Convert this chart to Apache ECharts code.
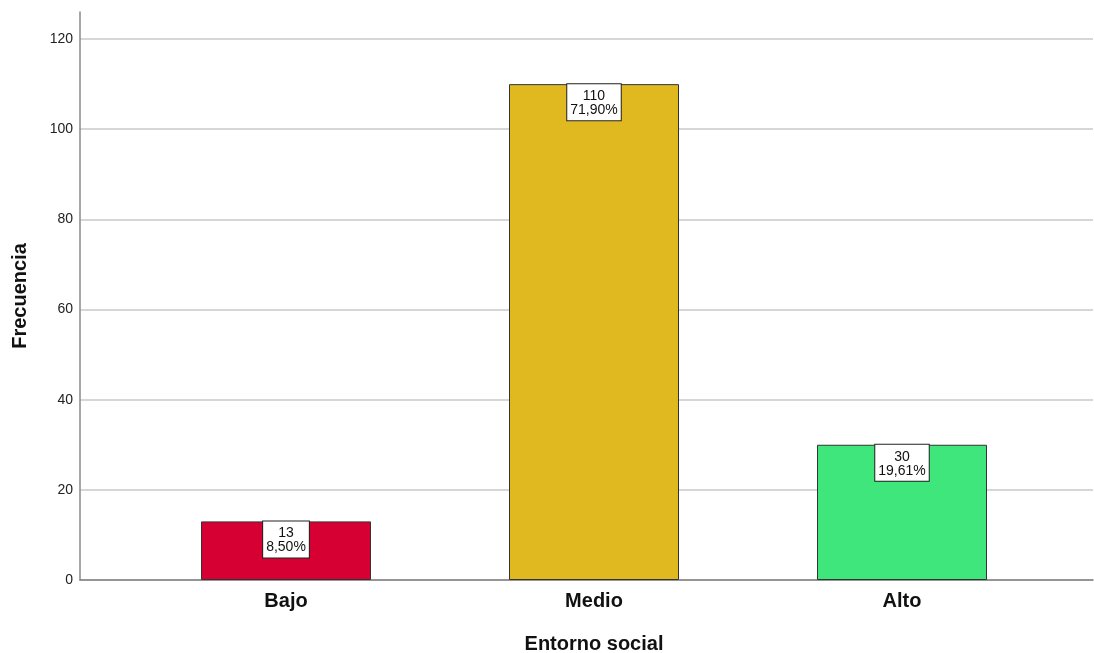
<!DOCTYPE html>
<html>
<head>
<meta charset="utf-8">
<script src="https://cdn.jsdelivr.net/npm/echarts@6/dist/echarts.min.js"></script>
<style>
  html, body { margin: 0; padding: 0; background: #fff; }
  #chart { width: 1094px; height: 653px; }
</style>
</head>
<body>
<div id="chart"></div>
<script>
// Frequency of each social-environment level
const categories = ['Bajo', 'Medio', 'Alto'];
const counts = [13, 110, 30];
const percents = [8.50, 71.90, 19.61];
const barColors = ['#d70032', '#e0b820', '#3fe67c'];

const yMax = 126;
const yStep = 20;

const fontFamily = '"Liberation Sans", Arial, sans-serif';

const chart = echarts.init(document.getElementById('chart'), null, { renderer: 'canvas' });

// ticks are 0..120 plus the axis end at 126; the last grid line stays hidden
const gridColors = [];
for (let v = 0; v <= yMax; v += yStep) gridColors.push('#c8c8c8');
gridColors.push('rgba(0,0,0,0)');

chart.setOption({
  animation: false,
  backgroundColor: '#ffffff',
  grid: [
    { left: 80, right: 1, top: 12, bottom: 73, outerBoundsMode: 'none', containLabel: false },
    { left: 132, right: 38, top: 12, bottom: 73, outerBoundsMode: 'none', containLabel: false }
  ],
  xAxis: [
    {
      gridIndex: 0, type: 'value', min: 0, max: 1,
      axisLine: { show: true, onZero: false, lineStyle: { color: '#808080', width: 1.5 } },
      axisTick: { show: false }, axisLabel: { show: false }, splitLine: { show: false }
    },
    {
      gridIndex: 1, type: 'category', data: categories,
      axisLine: { show: false }, axisTick: { show: false },
      axisLabel: { margin: 11, fontSize: 20, fontWeight: 'bold', color: '#111', fontFamily },
      name: 'Entorno social', nameLocation: 'middle', nameGap: 54,
      nameTextStyle: { fontSize: 20, fontWeight: 'bold', color: '#111', fontFamily }
    }
  ],
  yAxis: [
    {
      gridIndex: 0, type: 'value', min: 0, max: yMax, interval: yStep,
      axisLine: { show: true, lineStyle: { color: '#8a8a8a', width: 1.5 } },
      axisTick: { show: false },
      axisLabel: {
        margin: 7, fontSize: 14, color: '#222', fontFamily,
        formatter: v => (v % yStep === 0 ? String(v) : '')
      },
      splitLine: { show: true, lineStyle: { color: gridColors, width: 1.5 } },
      name: 'Frecuencia', nameLocation: 'middle', nameGap: 50, nameRotate: 90,
      nameTextStyle: { fontSize: 20, fontWeight: 'bold', color: '#111', fontFamily }
    },
    {
      gridIndex: 1, type: 'value', min: 0, max: yMax, show: false, splitLine: { show: false }
    }
  ],
  series: [
    {
      type: 'bar',
      xAxisIndex: 1, yAxisIndex: 1,
      barWidth: 170,
      data: counts.map((c, i) => ({
        value: c,
        itemStyle: { color: barColors[i], borderColor: '#333', borderWidth: 1 }
      })),
      label: {
        show: true,
        position: 'insideTop',
        distance: 0,
        formatter: p => counts[p.dataIndex] + '\n' + percents[p.dataIndex].toFixed(2).replace('.', ',') + '%',
        fontSize: 14, lineHeight: 14, color: '#111', fontFamily,
        backgroundColor: '#ffffff', borderColor: '#222', borderWidth: 1,
        padding: [5, 3, 3, 3], align: 'center'
      }
    }
  ]
});
</script>
</body>
</html>
